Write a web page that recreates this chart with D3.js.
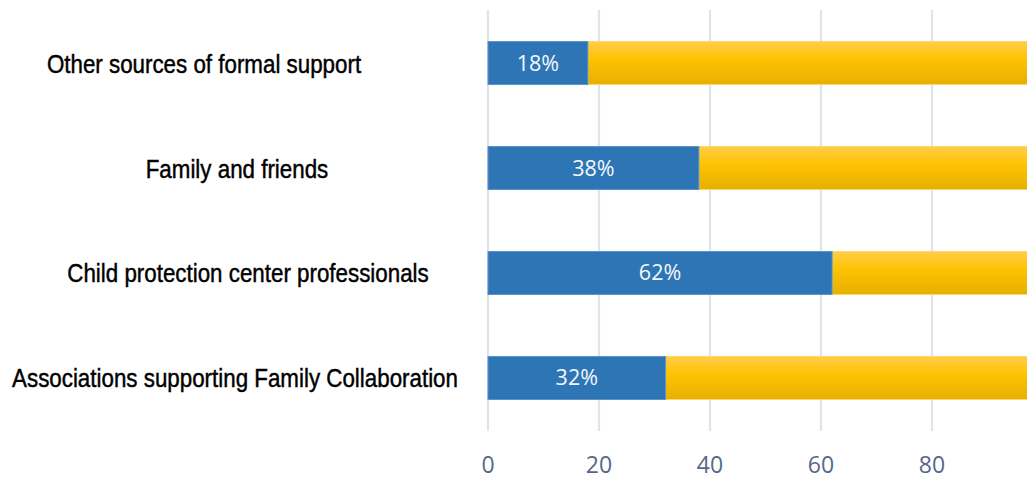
<!DOCTYPE html>
<html>
<head>
<meta charset="utf-8">
<script src="https://cdn.jsdelivr.net/npm/d3@7"></script>
<style>
  html, body { margin: 0; padding: 0; background: #fff; overflow: hidden; }
  svg { display: block; }
</style>
</head>
<body>
<svg id="chart" width="1027" height="479"></svg>
<script>
// Share of respondents who used each source of support (percent)
const categories = [
  "Other sources of formal support",
  "Family and friends",
  "Child protection center professionals",
  "Associations supporting Family Collaboration"
];
const values = [18, 38, 62, 32];
const tickValues = [0, 20, 40, 60, 80];

// Horizontal centre of each category label (layout)
const labelCenters = [204, 237, 248, 235];
const narrow = 0.86; // horizontal compression for the condensed label face

const svg = d3.select("#chart");

const x = d3.scaleLinear().domain([0, 100]).range([488, 1043]);
const y = d3.scaleBand().domain(categories).range([10, 431]).paddingInner(0.59).paddingOuter(0.3);

const defs = svg.append("defs");
const grad = defs.append("linearGradient").attr("id", "gold").attr("x1", 0).attr("y1", 0).attr("x2", 0).attr("y2", 1);
grad.append("stop").attr("offset", "0%").attr("stop-color", "#ffcd4a");
grad.append("stop").attr("offset", "40%").attr("stop-color", "#ffc303");
grad.append("stop").attr("offset", "100%").attr("stop-color", "#e6b000");

// Vertical gridlines
svg.append("g")
  .selectAll("line")
  .data(x.ticks(5))
  .join("line")
  .attr("x1", d => x(d)).attr("x2", d => x(d))
  .attr("y1", 10).attr("y2", 431)
  .attr("stroke", "#dfe3eb")
  .attr("stroke-width", 2.2);

// Tick labels
svg.append("g")
  .selectAll("text")
  .data(tickValues)
  .join("text")
  .attr("x", d => x(d))
  .attr("y", 473)
  .attr("text-anchor", "middle")
  .attr("font-family", "'Open Sans', 'Noto Sans', sans-serif")
  .attr("font-size", 23)
  .attr("fill", "#56688a")
  .text(d => d);

const rows = svg.append("g")
  .selectAll("g")
  .data(categories.map((c, i) => ({ c, v: values[i], i })))
  .join("g");

// Remainder (yellow) segment
rows.append("rect")
  .attr("x", d => x(d.v))
  .attr("y", d => y(d.c))
  .attr("width", d => x(100) - x(d.v))
  .attr("height", y.bandwidth())
  .attr("fill", "url(#gold)")
  .attr("stroke", "#ffd767")
  .attr("stroke-width", 1);

// Value (blue) segment
rows.append("rect")
  .attr("x", x(0))
  .attr("y", d => y(d.c))
  .attr("width", d => x(d.v) - x(0))
  .attr("height", y.bandwidth())
  .attr("fill", "#2e75b6")
  .attr("stroke", "#5b95cc")
  .attr("stroke-width", 1);

// Value labels
rows.append("text")
  .attr("x", d => (x(0) + x(d.v)) / 2)
  .attr("y", d => y(d.c) + y.bandwidth() / 2 + 7.5)
  .attr("text-anchor", "middle")
  .attr("font-family", "'Open Sans', 'Noto Sans', sans-serif")
  .attr("font-size", 21.5)
  .attr("fill", "#f4f8fc")
  .text(d => d.v + "%");

// Category labels (condensed via horizontal scale)
rows.append("text")
  .attr("transform", d => `translate(${labelCenters[d.i]},${y(d.c) + y.bandwidth() / 2 + 9.5}) scale(${narrow},1)`)
  .attr("text-anchor", "middle")
  .attr("font-family", "'Liberation Sans', Arial, sans-serif")
  .attr("font-size", 26)
  .attr("fill", "#000")
  .attr("stroke", "#000")
  .attr("stroke-width", 0.45)
  .text(d => d.c);
</script>
</body>
</html>
